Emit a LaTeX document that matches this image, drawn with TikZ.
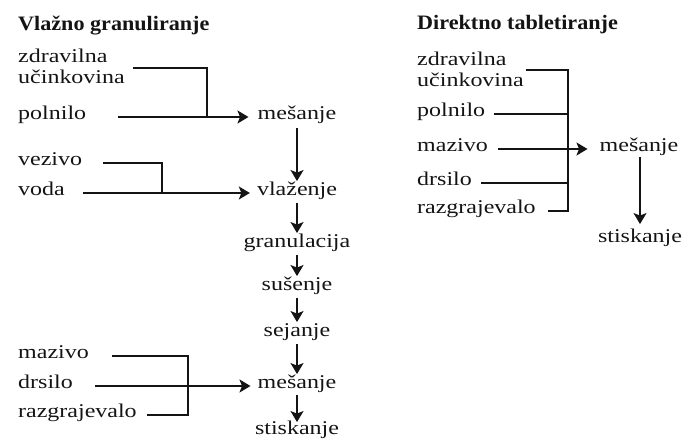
\documentclass[tikz,border=0pt]{standalone}
\usepackage{fontspec}
\setmainfont{Liberation Serif}[FakeStretch=1.23]
\newfontfamily\titlefont{Liberation Serif}[FakeStretch=1.08]
\usetikzlibrary{arrows.meta}
\definecolor{ink}{HTML}{141414}
\begin{document}
\begin{tikzpicture}[x=1pt,y=-1pt,
  lbl/.style={anchor=west, inner sep=0pt, font=\fontsize{19.5}{21}\selectfont, text height=0.75em, text depth=0.2em, text=ink},
  stepnode/.style={anchor=center, inner sep=0pt, font=\fontsize{19.5}{21}\selectfont, text height=0.75em, text depth=0.2em, text=ink},
  ttl/.style={anchor=base west, inner sep=0pt, font=\titlefont\bfseries\fontsize{20.5}{23}\selectfont, text=ink},
  ln/.style={line width=1.5pt, draw=ink},
  arr/.style={ln, -{Stealth[length=11pt,width=13pt,inset=2.5pt]}},
  varr/.style={arr, shorten <=5pt, shorten >=7pt},
]
\useasboundingbox (0,0) rectangle (685,443);

% ---------- Vlazno granuliranje ----------
\node[ttl] (t1) at (18,31) {Vlažno granuliranje};
\node[lbl] (zd1) at (18,60) {zdravilna};
\node[lbl] (uc1) at (18,81) {učinkovina};
\node[lbl] (po1) at (18,117) {polnilo};
\node[lbl] (ve1) at (18,163) {vezivo};
\node[lbl] (vo1) at (18,193) {voda};
\node[lbl] (ma1) at (18,356) {mazivo};
\node[lbl] (dr1) at (18,386) {drsilo};
\node[lbl] (ra1) at (18,415) {razgrajevalo};

\node[stepnode] (m1) at (297,117) {mešanje};
\node[stepnode] (vl) at (297,193) {vlaženje};
\node[stepnode] (gr) at (297,245) {granulacija};
\node[stepnode] (su) at (297,288) {sušenje};
\node[stepnode] (se) at (297,334) {sejanje};
\node[stepnode] (m2) at (297,386) {mešanje};
\node[stepnode] (st) at (297,432) {stiskanje};

\coordinate (zs1) at (133,68);
\coordinate (j1) at (207,68);
\coordinate (ps1) at (118,117);
\draw[ln] (zs1) -- (j1) -- (j1 |- po1);
\draw[arr, shorten >=9pt] (ps1) -- (ps1 -| m1.west);

\coordinate (vs1) at (103,163);
\coordinate (j2) at (162,163);
\coordinate (vos1) at (83,193);
\draw[ln] (vs1) -- (j2) -- (j2 |- vo1);
\draw[arr, shorten >=7pt] (vos1) -- (vos1 -| vl.west);

\coordinate (ms1) at (112,356);
\coordinate (j3) at (188,356);
\coordinate (rs1) at (147,415);
\coordinate (ds1) at (95,386);
\draw[ln] (ms1) -- (j3) -- (j3 |- ra1) -- (rs1);
\draw[arr, shorten >=7pt] (ds1) -- (ds1 -| m2.west);

\draw[arr, shorten <=6pt, shorten >=7pt] (m1) -- (vl);
\draw[varr] (vl) -- (gr);
\draw[varr] (gr) -- (su);
\draw[varr] (su) -- (se);
\draw[varr] (se) -- (m2);
\draw[arr, shorten <=4pt, shorten >=5pt] (m2) -- (st);

% ---------- Direktno tabletiranje ----------
\node[ttl] (t2) at (417,30) {Direktno tabletiranje};
\node[lbl] (zd2) at (417,63) {zdravilna};
\node[lbl] (uc2) at (417,84) {učinkovina};
\node[lbl] (po2) at (417,114) {polnilo};
\node[lbl] (ma2) at (417,149) {mazivo};
\node[lbl] (dr2) at (417,183) {drsilo};
\node[lbl] (ra2) at (417,211) {razgrajevalo};

\node[stepnode] (m3) at (639,149) {mešanje};
\node[stepnode] (st2) at (640,240) {stiskanje};

\coordinate (zs2) at (526,70);
\coordinate (k1) at (568,70);
\coordinate (rs2) at (548,211);
\coordinate (ps2) at (494,114);
\coordinate (ds2) at (481,183);
\coordinate (ms2) at (498,149);
\draw[ln] (zs2) -- (k1) -- (k1 |- ra2) -- (rs2);
\draw[ln] (ps2) -- (ps2 -| k1);
\draw[ln] (ds2) -- (ds2 -| k1);
\draw[arr, shorten >=12pt] (ms2) -- (ms2 -| m3.west);
\draw[arr, shorten <=3pt, shorten >=11pt] (m3.south -| st2) -- (st2);
\end{tikzpicture}
\end{document}
